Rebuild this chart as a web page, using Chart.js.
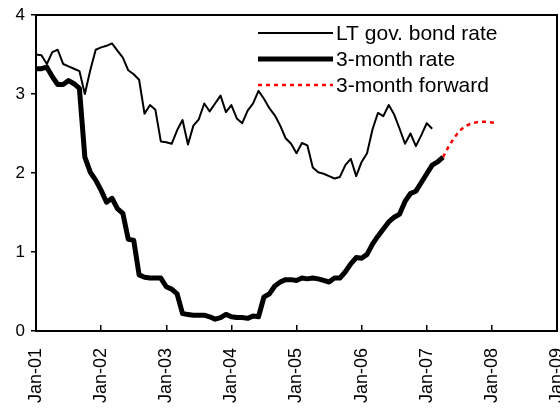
<!DOCTYPE html>
<html>
<head>
<meta charset="utf-8">
<script src="https://cdn.jsdelivr.net/npm/chart.js@4/dist/chart.umd.min.js"></script>
<style>
  html, body { margin: 0; padding: 0; background: #fff; }
  #wrap { width: 560px; height: 409px; position: relative; }
</style>
</head>
<body>
<div id="wrap"><canvas id="myChart"></canvas></div>
<script>
// months counted from Jan-01 (0 = Jan-01)
var tickLabels = ["Jan-01", "Jan-02", "Jan-03", "Jan-04", "Jan-05", "Jan-06", "Jan-07", "Jan-08", "Jan-09"];
var seriesNames = ["LT gov. bond rate", "3-month rate", "3-month forward"];

var bondStart = 0;
var bondRate = [
    3.50, 3.49, 3.38, 3.53, 3.56, 3.38, 3.35, 3.32, 3.29, 3.00, 3.30, 3.56,
    3.59, 3.61, 3.64, 3.55, 3.46, 3.30, 3.25, 3.18, 2.75, 2.86, 2.80, 2.40,
    2.39, 2.37, 2.54, 2.67, 2.36, 2.60, 2.68, 2.88, 2.78, 2.88, 2.98, 2.77,
    2.86, 2.69, 2.63, 2.79, 2.88, 3.04, 2.94, 2.82, 2.73, 2.60, 2.44, 2.37,
    2.25, 2.38, 2.35, 2.07, 2.01, 1.99, 1.96, 1.93, 1.95, 2.10, 2.18, 1.96,
    2.14, 2.25, 2.55, 2.76, 2.72, 2.86, 2.74, 2.56, 2.37, 2.50, 2.34, 2.48,
    2.63, 2.56
];

var shortStart = 0;
var shortRate = [
    3.32, 3.32, 3.34, 3.22, 3.12, 3.12, 3.17, 3.13, 3.07, 2.20, 2.01, 1.91,
    1.78, 1.63, 1.68, 1.55, 1.49, 1.16, 1.15, 0.71, 0.68, 0.67, 0.67, 0.67,
    0.56, 0.53, 0.47, 0.22, 0.21, 0.20, 0.20, 0.20, 0.18, 0.15, 0.17, 0.21,
    0.18, 0.17, 0.17, 0.16, 0.19, 0.18, 0.43, 0.47, 0.57, 0.62, 0.65, 0.65,
    0.64, 0.67, 0.66, 0.67, 0.66, 0.64, 0.62, 0.67, 0.67, 0.75, 0.85, 0.93,
    0.92, 0.97, 1.10, 1.20, 1.29, 1.38, 1.44, 1.48, 1.64, 1.74, 1.77, 1.88,
    1.99, 2.10, 2.14, 2.20
];

var forwardStart = 75;
var forwardRate = [2.20, 2.33, 2.44, 2.53, 2.59, 2.62, 2.64, 2.65, 2.65, 2.64, 2.63];

function toPoints(start, values) {
    var pts = [];
    for (var i = 0; i < values.length; i++) {
        pts.push({x: start + i, y: values[i]});
    }
    return pts;
}

var FONT = "'Liberation Sans', Arial, sans-serif";

// box round the plot and the legend in the top right
var framePlugin = {
    id: 'frame',
    afterDraw: function (chart) {
        var ctx = chart.ctx;
        var a = chart.chartArea;
        ctx.save();
        ctx.strokeStyle = '#000';
        ctx.lineWidth = 2;
        ctx.strokeRect(a.left, a.top, a.right - a.left, a.bottom - a.top);

        ctx.font = '21px ' + FONT;
        ctx.textBaseline = 'middle';
        ctx.fillStyle = '#000';
        var ds = chart.data.datasets;
        for (var i = 0; i < ds.length; i++) {
            var y = 33 + i * 26;
            ctx.beginPath();
            ctx.strokeStyle = ds[i].borderColor;
            ctx.lineWidth = ds[i].borderWidth;
            ctx.setLineDash(ds[i].borderDash || []);
            ctx.moveTo(258, y);
            ctx.lineTo(333, y);
            ctx.stroke();
            ctx.setLineDash([]);
            ctx.fillText(ds[i].label, 336, y + 1);
        }
        ctx.restore();
    }
};

var ctx = document.getElementById('myChart').getContext('2d');
var chart = new Chart(ctx, {
    type: 'line',
    data: {
        datasets: [{
            label: seriesNames[0],
            data: toPoints(bondStart, bondRate),
            borderColor: '#000',
            borderWidth: 2,
            pointRadius: 0,
            tension: 0,
            borderJoinStyle: 'round'
        }, {
            label: seriesNames[1],
            data: toPoints(shortStart, shortRate),
            borderColor: '#000',
            borderWidth: 5,
            pointRadius: 0,
            tension: 0,
            borderJoinStyle: 'round'
        }, {
            label: seriesNames[2],
            data: toPoints(forwardStart, forwardRate),
            borderColor: '#ff0000',
            borderWidth: 2.5,
            borderDash: [4, 4],
            pointRadius: 0,
            tension: 0
        }]
    },
    options: {
        responsive: true,
        maintainAspectRatio: false,
        animation: false,
        events: [],
        layout: {padding: {top: 15, right: 3, left: 0, bottom: 0}},
        plugins: {
            legend: {display: false},
            tooltip: {enabled: false}
        },
        scales: {
            x: {
                type: 'linear',
                min: 0,
                max: 96,
                border: {color: '#000', width: 2},
                grid: {drawOnChartArea: false, drawTicks: true, tickLength: -6, color: '#000', lineWidth: 1.5},
                ticks: {
                    stepSize: 12,
                    autoSkip: false,
                    minRotation: 90,
                    maxRotation: 90,
                    padding: 23,
                    color: '#000',
                    font: {family: FONT, size: 18},
                    callback: function (value) {
                        return tickLabels[value / 12];
                    }
                },
                afterFit: function (scale) {
                    scale.height = 78;
                    scale.paddingLeft = 0;
                    scale.paddingRight = 0;
                }
            },
            y: {
                min: 0,
                max: 4,
                border: {color: '#000', width: 2},
                grid: {drawOnChartArea: false, drawTicks: true, tickLength: 5, color: '#000', lineWidth: 1.5},
                ticks: {
                    stepSize: 1,
                    padding: 6,
                    color: '#000',
                    font: {family: FONT, size: 17}
                },
                afterFit: function (scale) {
                    scale.width = 36;
                    scale.paddingTop = 0;
                    scale.paddingBottom = 0;
                }
            }
        }
    },
    plugins: [framePlugin]
});
</script>
</body>
</html>
